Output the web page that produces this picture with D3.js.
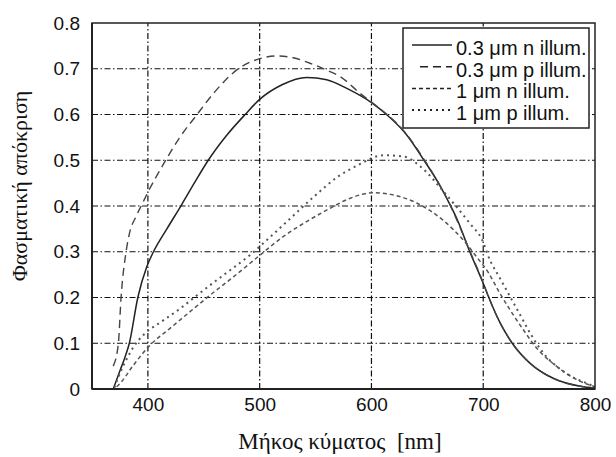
<!DOCTYPE html>
<html>
<head>
<meta charset="utf-8">
<script src="https://cdn.jsdelivr.net/npm/d3@7"></script>
<style>
  html, body { margin: 0; padding: 0; background: #fff; }
  svg { display: block; }
</style>
</head>
<body>
<svg id="chart" width="616" height="457"></svg>
<script>
// Spectral response curves (wavelength in nm, response)
const seriesNames = ["0.3 μm n illum.", "0.3 μm p illum.", "1 μm n illum.", "1 μm p illum."];

const n03 = [[369,0],[375,0.04],[379.6,0.07],[383.4,0.1],[391,0.2],[399,0.267],[405,0.3],[417,0.35],[430,0.402],[442,0.452],[454,0.5],[470,0.553],[487,0.6],[500,0.633],[520,0.665],[542,0.681],[560,0.676],[578,0.657],[600,0.626],[614,0.599],[630,0.56],[647,0.5],[660,0.45],[670.5,0.402],[677,0.369],[688,0.3],[700,0.231],[705,0.2],[715,0.145],[726,0.1],[742,0.056],[763,0.023],[787,0.006],[800,0.002]];

const p03 = [[369,0.05],[373.6,0.1],[376,0.2],[380.5,0.3],[384,0.345],[389,0.375],[395,0.405],[400,0.43],[407,0.462],[414,0.492],[428,0.548],[444,0.6],[460,0.65],[481,0.7],[500,0.722],[515,0.728],[530,0.724],[545,0.712],[560,0.697],[572,0.683],[590,0.646],[600,0.627],[614,0.6],[630,0.561],[647,0.502],[670,0.404],[688,0.302],[700,0.232],[705,0.2],[715,0.145],[726,0.1],[742,0.056],[763,0.023],[787,0.006],[800,0.002]];

const n1 = [[372,0.005],[375,0.012],[387,0.052],[402,0.096],[420,0.133],[437.7,0.169],[455.6,0.205],[476.5,0.245],[500,0.292],[521,0.333],[542,0.366],[563,0.395],[581,0.417],[602,0.429],[620,0.424],[641,0.406],[664.5,0.368],[682,0.326],[694,0.289],[705,0.253],[714,0.213],[724,0.173],[736,0.129],[748,0.089],[766,0.049],[784,0.02],[800,0.005]];

const p1 = [[370,0.003],[376,0.04],[382,0.07],[388,0.095],[396,0.118],[412,0.147],[429,0.176],[444,0.205],[460,0.235],[476.5,0.265],[491.5,0.293],[503,0.318],[524,0.365],[547,0.417],[570,0.464],[587,0.488],[611,0.511],[629,0.508],[644,0.486],[665,0.43],[688,0.362],[699,0.326],[706,0.282],[715,0.242],[724,0.202],[733,0.162],[742,0.122],[754,0.078],[772,0.038],[793,0.012],[800,0.005]];

const xTicks = [400, 500, 600, 700, 800];
const yTicks = [0, 0.1, 0.2, 0.3, 0.4, 0.5, 0.6, 0.7, 0.8];

const series = [
  { name: seriesNames[0], data: n03, dash: null,  color: "#222", width: 1.5 },
  { name: seriesNames[1], data: p03, dash: "8,5", color: "#444", width: 1.4 },
  { name: seriesNames[2], data: n1,  dash: "4,3", color: "#555", width: 1.5 },
  { name: seriesNames[3], data: p1,  dash: "2,4", color: "#555", width: 2 }
];

const svg = d3.select("#chart");
const margin = { left: 92, top: 23, right: 595, bottom: 389 };

const x = d3.scaleLinear().domain([350, 800]).range([margin.left, margin.right]);
const y = d3.scaleLinear().domain([0, 0.8]).range([margin.bottom, margin.top]);

const gridDash = "6,2.5,1.5,2.5";

// Grid lines
svg.append("g").selectAll("line")
  .data(xTicks.filter(t => t < 800))
  .join("line")
  .attr("x1", d => x(d)).attr("x2", d => x(d))
  .attr("y1", y(0)).attr("y2", y(0.8))
  .attr("stroke", "#111").attr("stroke-width", 1.2)
  .attr("stroke-dasharray", gridDash);

svg.append("g").selectAll("line")
  .data(yTicks.filter(t => t > 0 && t < 0.8))
  .join("line")
  .attr("x1", x(350)).attr("x2", x(800))
  .attr("y1", d => y(d)).attr("y2", d => y(d))
  .attr("stroke", "#111").attr("stroke-width", 1.2)
  .attr("stroke-dasharray", gridDash);

// Curves
const line = d3.line().x(d => x(d[0])).y(d => y(d[1])).curve(d3.curveMonotoneX);
svg.append("g").selectAll("path")
  .data(series)
  .join("path")
  .attr("d", d => line(d.data))
  .attr("fill", "none")
  .attr("stroke", d => d.color)
  .attr("stroke-width", d => d.width)
  .attr("stroke-dasharray", d => d.dash);

// Axes
const fontTick = "'Liberation Sans', Arial, sans-serif";
const xAxis = d3.axisBottom(x).tickValues(xTicks).tickSize(0).tickPadding(9).tickFormat(d3.format("d"));
const yAxis = d3.axisLeft(y).tickValues(yTicks).tickSize(0).tickPadding(12).tickFormat(d => d === 0 ? "0" : d3.format(".1f")(d));

const gx = svg.append("g").attr("transform", `translate(0,${margin.bottom})`).call(xAxis);
const gy = svg.append("g").attr("transform", `translate(${margin.left},0)`).call(yAxis);
[gx, gy].forEach(g => {
  g.select(".domain").remove();
  g.selectAll("text").attr("font-family", fontTick).attr("font-size", 19).attr("fill", "#111");
});

// Frame
svg.append("rect")
  .attr("x", x(350)).attr("y", y(0.8))
  .attr("width", x(800) - x(350)).attr("height", y(0) - y(0.8))
  .attr("fill", "none").attr("stroke", "#222").attr("stroke-width", 1.5);
svg.append("line")
  .attr("x1", x(350)).attr("x2", x(800)).attr("y1", y(0)).attr("y2", y(0))
  .attr("stroke", "#222").attr("stroke-width", 2);
svg.append("line")
  .attr("x1", x(350)).attr("x2", x(350)).attr("y1", y(0)).attr("y2", y(0.8))
  .attr("stroke", "#222").attr("stroke-width", 2);

// Legend
const lg = svg.append("g");
lg.append("rect")
  .attr("x", 403).attr("y", 28).attr("width", 186).attr("height", 100)
  .attr("fill", "#fff").attr("stroke", "#222").attr("stroke-width", 1.5);
series.forEach((s, i) => {
  const cy = 45 + i * 21.7;
  lg.append("line")
    .attr("x1", s.dash === "8,5" ? 420 : 412).attr("x2", 452)
    .attr("y1", cy).attr("y2", cy)
    .attr("stroke", "#222").attr("stroke-width", s.width)
    .attr("stroke-dasharray", s.dash);
  lg.append("text")
    .attr("x", 456).attr("y", cy + 10)
    .attr("font-family", fontTick).attr("font-size", 20).attr("fill", "#111")
    .text(s.name);
});

// Axis titles
svg.append("text")
  .attr("x", 340).attr("y", 449)
  .attr("text-anchor", "middle")
  .attr("font-family", "'Liberation Serif', 'Times New Roman', serif")
  .attr("font-size", 23).attr("fill", "#111")
  .attr("xml:space", "preserve")
  .text("Μήκος κύματος  [nm]");

svg.append("text")
  .attr("transform", "translate(27,186) rotate(-90)")
  .attr("text-anchor", "middle")
  .attr("font-family", "'Liberation Serif', 'Times New Roman', serif")
  .attr("font-size", 22).attr("fill", "#111")
  .text("Φασματική απόκριση");
</script>
</body>
</html>
